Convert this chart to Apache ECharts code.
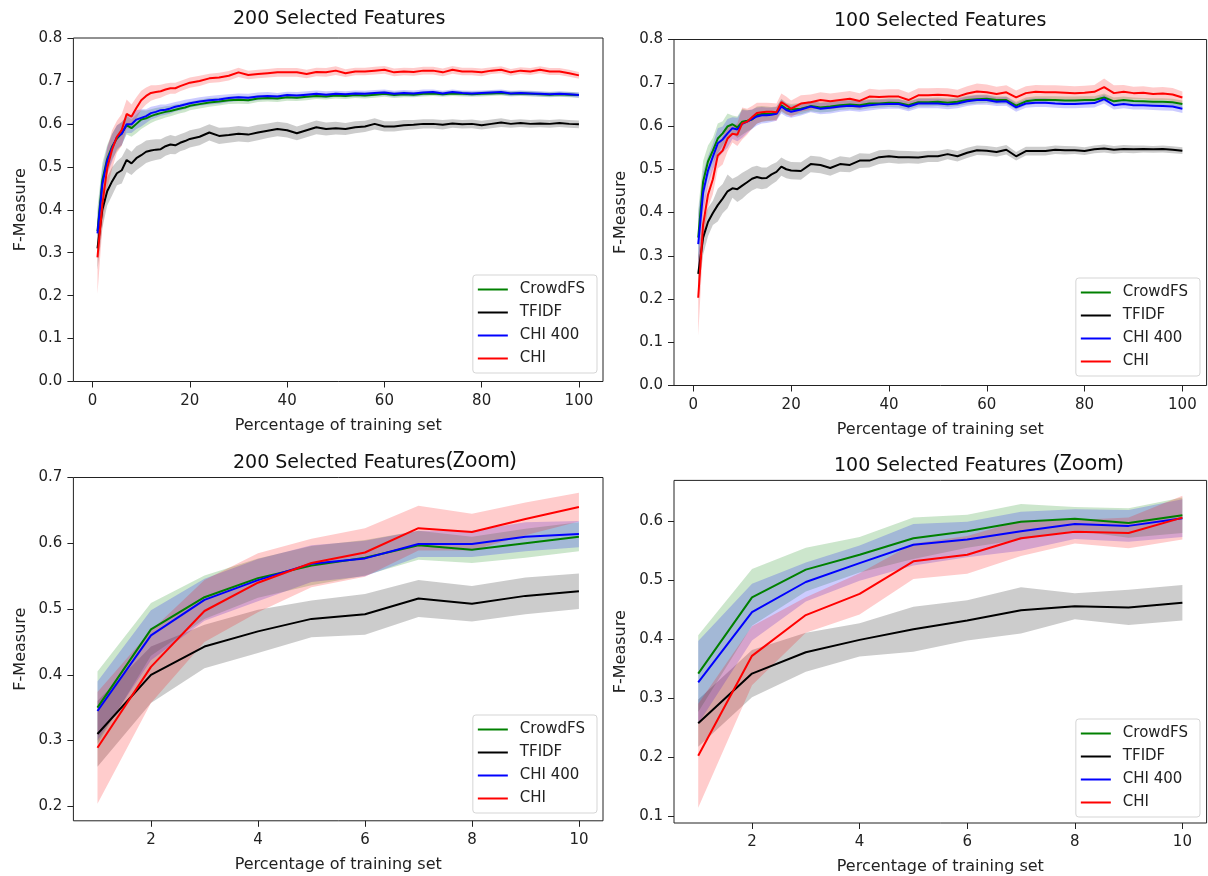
<!DOCTYPE html>
<html><head><meta charset="utf-8">
<script src="https://cdn.jsdelivr.net/npm/echarts@6/dist/echarts.min.js"></script>
<style>html,body{margin:0;padding:0;background:#fff}#c{width:1208px;height:876px}</style>
</head><body><div id="c"></div>
<script>
// ---------------- data ----------------
const SERIES_NAMES = ['CrowdFS', 'TFIDF', 'CHI 400', 'CHI'];
const X_TOP = [1,2,3,4,5,6,7,8,9,10,11,12,13,14,15,16,17,18,19,20,
  22,24,26,28,30,32,34,36,38,40,42,44,46,48,50,52,54,56,58,60,
  62,64,66,68,70,72,74,76,78,80,82,84,86,88,90,92,94,96,98,100];
const X_ZOOM = [1,2,3,4,5,6,7,8,9,10];
const X_TICKS_TOP = [0,20,40,60,80,100];
const X_TICKS_ZOOM = [2,4,6,8,10];
const Y_TICKS_TOP = [0,0.1,0.2,0.3,0.4,0.5,0.6,0.7,0.8];
const Y_TICKS_ZOOM200 = [0.2,0.3,0.4,0.5,0.6,0.7];
const Y_TICKS_ZOOM100 = [0.1,0.2,0.3,0.4,0.5,0.6];

// 200 selected features: mean F-measure
const F200_CROWDFS = [0.350,0.469,0.518,0.547,0.566,0.578,0.597,0.590,0.600,0.610,
  0.613,0.618,0.622,0.625,0.628,0.630,0.633,0.636,0.638,0.642,
  0.646,0.650,0.652,0.655,0.656,0.655,0.659,0.660,0.659,0.662,
  0.661,0.663,0.665,0.664,0.666,0.665,0.667,0.666,0.668,0.670,
  0.667,0.669,0.668,0.670,0.671,0.669,0.671,0.670,0.669,0.670,
  0.671,0.672,0.670,0.671,0.670,0.669,0.668,0.669,0.668,0.667];
const F200_TFIDF = [0.310,0.400,0.443,0.466,0.485,0.492,0.516,0.508,0.520,0.527,
  0.535,0.538,0.540,0.541,0.548,0.552,0.550,0.556,0.560,0.565,
  0.570,0.580,0.572,0.574,0.577,0.575,0.580,0.584,0.588,0.585,
  0.578,0.585,0.592,0.588,0.590,0.588,0.592,0.594,0.600,0.594,
  0.594,0.597,0.598,0.600,0.600,0.598,0.601,0.599,0.600,0.597,
  0.600,0.603,0.600,0.602,0.600,0.601,0.600,0.602,0.600,0.599];
const F200_CHI400 = [0.345,0.460,0.514,0.544,0.569,0.577,0.599,0.599,0.610,0.614,
  0.618,0.625,0.628,0.632,0.633,0.636,0.640,0.642,0.645,0.648,
  0.652,0.655,0.657,0.660,0.662,0.661,0.664,0.665,0.664,0.667,
  0.666,0.668,0.670,0.668,0.670,0.669,0.671,0.670,0.672,0.673,
  0.670,0.672,0.671,0.673,0.674,0.671,0.674,0.672,0.671,0.672,
  0.673,0.674,0.671,0.672,0.671,0.670,0.669,0.670,0.669,0.667];
const F200_CHI = [0.289,0.412,0.497,0.540,0.570,0.586,0.623,0.617,0.637,0.655,
  0.665,0.672,0.674,0.676,0.680,0.683,0.683,0.688,0.692,0.696,
  0.700,0.706,0.708,0.712,0.720,0.714,0.716,0.718,0.720,0.720,
  0.720,0.716,0.721,0.720,0.724,0.718,0.722,0.722,0.724,0.726,
  0.720,0.722,0.721,0.724,0.724,0.720,0.726,0.722,0.722,0.720,
  0.724,0.726,0.720,0.724,0.722,0.726,0.722,0.722,0.718,0.713];
// 200 selected features: band half-width (std)
const F200_CROWDFS_SD = [0.055,0.040,0.033,0.030,0.030,0.027,0.022,0.020,0.022,0.022,
  0.018,0.016,0.015,0.014,0.013,0.012,0.012,0.011,0.011,0.010,
  0.010,0.010,0.009,0.009,0.009,0.009,0.008,0.008,0.008,0.008,
  0.008,0.008,0.007,0.007,0.007,0.007,0.007,0.007,0.007,0.007,
  0.007,0.007,0.006,0.006,0.006,0.006,0.006,0.006,0.006,0.006,
  0.006,0.006,0.006,0.006,0.006,0.006,0.006,0.006,0.006,0.006];
const F200_TFIDF_SD = [0.050,0.043,0.033,0.033,0.028,0.031,0.028,0.027,0.028,0.027,
  0.026,0.025,0.024,0.023,0.022,0.022,0.021,0.020,0.020,0.020,
  0.020,0.019,0.019,0.018,0.018,0.018,0.018,0.017,0.017,0.017,
  0.016,0.016,0.016,0.015,0.015,0.014,0.014,0.013,0.013,0.012,
  0.012,0.012,0.011,0.011,0.011,0.011,0.010,0.010,0.010,0.010,
  0.010,0.010,0.009,0.009,0.009,0.009,0.009,0.009,0.009,0.009];
const F200_CHI400_SD = [0.045,0.038,0.032,0.032,0.028,0.027,0.020,0.020,0.022,0.020,
  0.016,0.015,0.014,0.013,0.012,0.012,0.011,0.011,0.011,0.010,
  0.010,0.010,0.010,0.009,0.009,0.009,0.009,0.009,0.008,0.008,
  0.008,0.008,0.008,0.008,0.007,0.007,0.007,0.007,0.007,0.007,
  0.007,0.007,0.007,0.007,0.006,0.006,0.006,0.006,0.006,0.006,
  0.006,0.006,0.006,0.006,0.006,0.006,0.006,0.006,0.006,0.006];
const F200_CHI_SD = [0.085,0.055,0.047,0.045,0.037,0.037,0.034,0.028,0.025,0.022,
  0.020,0.018,0.016,0.015,0.014,0.013,0.013,0.012,0.012,0.012,
  0.012,0.011,0.011,0.011,0.011,0.010,0.010,0.010,0.010,0.010,
  0.010,0.010,0.010,0.010,0.010,0.009,0.009,0.009,0.009,0.009,
  0.009,0.009,0.009,0.009,0.009,0.009,0.009,0.009,0.009,0.009,
  0.008,0.008,0.008,0.008,0.008,0.008,0.008,0.008,0.008,0.008];

// 100 selected features: mean F-measure
const F100_CROWDFS = [0.342,0.471,0.518,0.543,0.571,0.583,0.599,0.604,0.597,0.610,
  0.612,0.615,0.625,0.628,0.628,0.628,0.630,0.648,0.640,0.638,
  0.640,0.646,0.643,0.645,0.648,0.650,0.648,0.652,0.652,0.654,
  0.653,0.648,0.655,0.655,0.656,0.654,0.656,0.660,0.662,0.663,
  0.660,0.660,0.647,0.657,0.660,0.660,0.660,0.659,0.659,0.660,
  0.660,0.666,0.657,0.660,0.658,0.657,0.656,0.656,0.655,0.651];
const F100_TFIDF = [0.258,0.342,0.378,0.399,0.417,0.432,0.449,0.456,0.454,0.462,
  0.470,0.478,0.482,0.479,0.480,0.488,0.494,0.506,0.500,0.497,
  0.496,0.512,0.510,0.503,0.512,0.510,0.520,0.520,0.528,0.530,
  0.528,0.528,0.527,0.530,0.530,0.535,0.530,0.538,0.544,0.543,
  0.540,0.545,0.530,0.542,0.542,0.542,0.545,0.544,0.544,0.542,
  0.546,0.548,0.545,0.547,0.546,0.547,0.546,0.547,0.545,0.543];
const F100_CHI400 = [0.327,0.446,0.497,0.529,0.560,0.569,0.583,0.595,0.592,0.605,
  0.610,0.616,0.622,0.625,0.625,0.626,0.628,0.645,0.637,0.633,
  0.638,0.645,0.640,0.642,0.645,0.647,0.645,0.648,0.650,0.651,
  0.651,0.645,0.652,0.652,0.652,0.650,0.652,0.657,0.660,0.660,
  0.656,0.657,0.643,0.652,0.654,0.654,0.652,0.651,0.651,0.652,
  0.653,0.662,0.648,0.651,0.648,0.648,0.647,0.646,0.645,0.640];
const F100_CHI = [0.203,0.372,0.441,0.477,0.532,0.543,0.571,0.582,0.580,0.606,
  0.610,0.620,0.630,0.632,0.633,0.633,0.632,0.655,0.648,0.640,
  0.652,0.655,0.660,0.657,0.660,0.663,0.658,0.668,0.667,0.668,
  0.668,0.660,0.671,0.671,0.672,0.671,0.668,0.675,0.680,0.678,
  0.674,0.678,0.666,0.676,0.679,0.678,0.678,0.677,0.676,0.677,
  0.679,0.690,0.676,0.679,0.676,0.677,0.674,0.675,0.673,0.666];
// 100 selected features: band half-width (std)
const F100_CROWDFS_SD = [0.065,0.048,0.037,0.030,0.035,0.028,0.030,0.020,0.025,0.030,
  0.025,0.022,0.020,0.018,0.017,0.016,0.015,0.015,0.014,0.013,
  0.013,0.012,0.012,0.012,0.011,0.011,0.011,0.011,0.010,0.010,
  0.010,0.010,0.010,0.010,0.010,0.010,0.010,0.010,0.010,0.010,
  0.009,0.009,0.009,0.009,0.009,0.009,0.009,0.009,0.009,0.009,
  0.009,0.009,0.009,0.008,0.008,0.008,0.008,0.008,0.008,0.008];
const F100_TFIDF_SD = [0.040,0.040,0.033,0.028,0.038,0.034,0.039,0.022,0.030,0.030,
  0.028,0.027,0.026,0.025,0.024,0.023,0.022,0.021,0.021,0.020,
  0.020,0.019,0.019,0.018,0.018,0.017,0.017,0.016,0.016,0.015,
  0.015,0.014,0.014,0.013,0.013,0.012,0.012,0.012,0.011,0.011,
  0.011,0.011,0.010,0.010,0.010,0.010,0.010,0.010,0.009,0.009,
  0.009,0.009,0.009,0.009,0.009,0.008,0.008,0.008,0.008,0.008];
const F100_CHI400_SD = [0.070,0.048,0.033,0.030,0.035,0.030,0.033,0.025,0.027,0.032,
  0.026,0.023,0.021,0.019,0.018,0.017,0.016,0.016,0.015,0.014,
  0.014,0.013,0.013,0.013,0.012,0.012,0.012,0.012,0.011,0.011,
  0.011,0.011,0.011,0.011,0.011,0.011,0.011,0.011,0.011,0.011,
  0.010,0.010,0.010,0.010,0.010,0.010,0.010,0.010,0.010,0.010,
  0.010,0.010,0.010,0.010,0.010,0.010,0.010,0.010,0.010,0.010];
const F100_CHI_SD = [0.088,0.050,0.030,0.035,0.030,0.032,0.030,0.020,0.026,0.037,
  0.030,0.026,0.024,0.022,0.021,0.020,0.020,0.020,0.020,0.019,
  0.019,0.018,0.018,0.018,0.018,0.018,0.018,0.018,0.017,0.017,
  0.017,0.017,0.016,0.016,0.016,0.016,0.016,0.017,0.018,0.018,
  0.017,0.016,0.016,0.016,0.016,0.016,0.016,0.016,0.016,0.016,
  0.016,0.020,0.018,0.016,0.015,0.015,0.015,0.015,0.015,0.014];

// ---------------- styling / layout ----------------
const COLORS = ['#008000', '#000000', '#0000ff', '#ff0000'];
const FONT = 'DejaVu Sans';
const TXT = '#222';
const FS_TICK = 15;
const FS_NAME = 16;
const FS_LEG = 15;

function rgba(hex, a) {
  const n = parseInt(hex.slice(1), 16);
  return 'rgba(' + ((n >> 16) & 255) + ',' + ((n >> 8) & 255) + ',' + (n & 255) + ',' + a + ')';
}
const first10 = arr => arr.slice(0, 10);

const panels = [
  { title: '200 Selected Features', tx: 233, ty: 10,
    grid: { left: 73.4, top: 38, width: 529.6, height: 343.5 },
    xMin: -3.95, xMax: 104.95, xTicks: X_TICKS_TOP, yMin: 0, yMax: 0.8, yTicks: Y_TICKS_TOP,
    xs: X_TOP, means: [F200_CROWDFS, F200_TFIDF, F200_CHI400, F200_CHI],
    sds: [F200_CROWDFS_SD, F200_TFIDF_SD, F200_CHI400_SD, F200_CHI_SD],
    legend: { right: 611, bottom: 503 } },
  { title: '100 Selected Features', tx: 834, ty: 12,
    grid: { left: 674, top: 39.5, width: 532.6, height: 346 },
    xMin: -3.95, xMax: 104.95, xTicks: X_TICKS_TOP, yMin: 0, yMax: 0.8, yTicks: Y_TICKS_TOP,
    xs: X_TOP, means: [F100_CROWDFS, F100_TFIDF, F100_CHI400, F100_CHI],
    sds: [F100_CROWDFS_SD, F100_TFIDF_SD, F100_CHI400_SD, F100_CHI_SD],
    legend: { right: 8, bottom: 500 } },
  { title: '200 Selected Features{z|(Zoom)}', tx: 233, ty: 451,
    grid: { left: 73.4, top: 477.5, width: 529.6, height: 343.3 },
    xMin: 0.55, xMax: 10.45, xTicks: X_TICKS_ZOOM, yMin: 0.178, yMax: 0.7, yTicks: Y_TICKS_ZOOM200,
    xs: X_ZOOM, means: [F200_CROWDFS, F200_TFIDF, F200_CHI400, F200_CHI].map(first10),
    sds: [F200_CROWDFS_SD, F200_TFIDF_SD, F200_CHI400_SD, F200_CHI_SD].map(first10),
    legend: { right: 611, bottom: 63 } },
  { title: '100 Selected Features {z|(Zoom)}', tx: 834, ty: 454,
    grid: { left: 674, top: 480.4, width: 532.6, height: 345 },
    xMin: 0.55, xMax: 10.45, xTicks: X_TICKS_ZOOM, yMin: 0.089, yMax: 0.669, yTicks: Y_TICKS_ZOOM100,
    xs: X_ZOOM, means: [F100_CROWDFS, F100_TFIDF, F100_CHI400, F100_CHI].map(first10),
    sds: [F100_CROWDFS_SD, F100_TFIDF_SD, F100_CHI400_SD, F100_CHI_SD].map(first10),
    legend: { right: 8, bottom: 59 } }
];

// band = polygon through (x, mean+sd) forward and (x, mean-sd) backward, via the axes' scales
function makeBandRenderer(fill) {
  return function (params, api) {
    if (params.dataIndexInside !== 0) return null;
    const n = params.dataInsideLength;
    const up = [], lo = [];
    for (let i = 0; i < n; i++) {
      const x = api.value(0, i);
      lo.push(api.coord([x, api.value(1, i)]));
      up.push(api.coord([x, api.value(2, i)]));
    }
    const cs = params.coordSys;
    return {
      type: 'polygon',
      shape: { points: up.concat(lo.reverse()) },
      style: { fill: fill, stroke: null },
      clipPath: { type: 'rect', shape: { x: cs.x, y: cs.y, width: cs.width, height: cs.height } },
      silent: true
    };
  };
}

const series = [];
panels.forEach((p, pi) => {
  p.means.forEach((m, k) => {
    const color = COLORS[k];
    const sd = p.sds[k];
    series.push({ type: 'custom', name: '_band', xAxisIndex: pi, yAxisIndex: pi,
      dimensions: ['x', 'lo', 'hi'], encode: { x: 0, y: [1, 2] },
      data: p.xs.map((x, i) => [x, m[i] - sd[i], m[i] + sd[i]]),
      renderItem: makeBandRenderer(rgba(color, 0.2)), silent: true });
    series.push({ type: 'line', name: SERIES_NAMES[k], xAxisIndex: pi, yAxisIndex: pi,
      data: p.xs.map((x, i) => [x, m[i]]), symbol: 'none', silent: true,
      lineStyle: { color: color, width: 2 }, itemStyle: { color: color } });
  });
});

const option = {
  animation: false,
  backgroundColor: '#fff',
  textStyle: { fontFamily: FONT },
  title: panels.map(p => ({
    text: p.title, left: p.tx, top: p.ty, padding: 0,
    textStyle: { fontFamily: FONT, fontSize: 19, fontWeight: 'normal', color: '#111',
      rich: { z: { fontFamily: 'Noto Sans', fontSize: 21, color: '#111', padding: [0, 0, 4, 1] } } }
  })),
  grid: panels.map(p => Object.assign({ show: true, borderColor: '#222', borderWidth: 1, backgroundColor: 'transparent' }, p.grid)),
  xAxis: panels.map((p, pi) => ({
    type: 'value', gridIndex: pi, min: p.xMin, max: p.xMax,
    axisLine: { show: false, onZero: false },
    axisTick: { show: true, length: 6, lineStyle: { color: '#222', width: 1 }, customValues: p.xTicks },
    axisLabel: { customValues: p.xTicks, fontSize: FS_TICK, color: TXT, margin: 12, fontFamily: FONT,
      formatter: v => String(v) },
    splitLine: { show: false },
    name: 'Percentage of training set', nameLocation: 'middle', nameGap: 36,
    nameTextStyle: { fontSize: FS_NAME, color: TXT, fontFamily: FONT }
  })),
  yAxis: panels.map((p, pi) => ({
    type: 'value', gridIndex: pi, min: p.yMin, max: p.yMax,
    axisLine: { show: false, onZero: false },
    axisTick: { show: true, length: 6, lineStyle: { color: '#222', width: 1 }, customValues: p.yTicks },
    axisLabel: { customValues: p.yTicks, fontSize: FS_TICK, color: TXT, margin: 11, fontFamily: FONT,
      formatter: v => v.toFixed(1) },
    splitLine: { show: false },
    name: 'F-Measure', nameLocation: 'middle', nameGap: 45,
    nameTextStyle: { fontSize: FS_NAME, color: TXT, fontFamily: FONT }
  })),
  legend: panels.map(p => ({
    orient: 'vertical', right: p.legend.right, bottom: p.legend.bottom,
    data: SERIES_NAMES, icon: 'rect', itemWidth: 30, itemHeight: 2, itemGap: 8,
    selectedMode: false,
    textStyle: { fontSize: FS_LEG, color: TXT, fontFamily: FONT, padding: [0, 0, 0, 7] },
    borderColor: '#d5d5d5', borderWidth: 1, borderRadius: 3,
    padding: [7, 12, 7, 5], backgroundColor: 'rgba(255,255,255,0.8)'
  })),
  series: series
};

const chart = echarts.init(document.getElementById('c'), null, { renderer: 'canvas' });
chart.setOption(option);
</script>
</body></html>
